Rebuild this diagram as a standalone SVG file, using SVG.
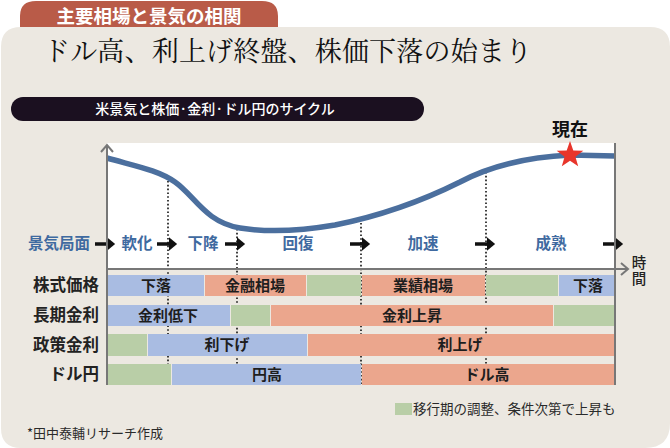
<svg xmlns="http://www.w3.org/2000/svg" width="670" height="448" viewBox="0 0 670 448">
<defs>
<style>
.jp{font-family:"Noto Sans CJK JP","Noto Sans",sans-serif}
.phase{font-family:"Noto Sans CJK JP",sans-serif;font-size:15.5px;font-weight:700;fill:#3f6aa0;text-anchor:middle}
.rowlab{font-family:"Noto Sans CJK JP",sans-serif;font-size:16.5px;font-weight:700;fill:#222;text-anchor:end}
.bartxt{font-family:"Noto Sans CJK JP",sans-serif;font-size:15px;font-weight:700;fill:#1e1e1e;text-anchor:middle}
.b{fill:#a9bce2}
.s{fill:#eba68d}
.g{fill:#b9cea7}
.dot{stroke:#111;stroke-width:1.6;stroke-dasharray:1.6 2.2;fill:none}
.axis{stroke:#777;stroke-width:2;fill:none}
.arr{stroke:#111;stroke-width:3.5;marker-end:url(#ah)}
</style>
<marker id="ah" markerWidth="4" markerHeight="4" refX="1.5" refY="2" orient="auto" markerUnits="strokeWidth">
<path d="M0,0 L2.4,2 L0,4 Z" fill="#111"/>
</marker>
</defs>
<rect width="670" height="448" fill="#ffffff"/>
<g id="tab">
<path d="M20,30 L20,16 Q20,1 36,1 L262,1 Q278,1 278,16 L278,30 Z" fill="#b95b48"/>
<text x="149" y="23" class="jp" font-size="18.5" font-weight="700" fill="#ffffff" text-anchor="middle">主要相場と景気の相関</text>
</g>
<g id="panel">
<path d="M1,47 Q1,27 21,27 L650,27 Q670,27 670,47 L670,423 Q670,448 645,448 L21,448 Q1,448 1,428 Z" fill="#ece8e1"/>
</g>
<g id="title">
<text x="43" y="61" font-family="Noto Serif CJK JP,Noto Sans CJK JP,serif" font-size="27" fill="#111" textLength="489" lengthAdjust="spacing">ドル高、利上げ終盤、株価下落の始まり</text>
</g>
<g id="subtitle">
<rect x="11" y="97" width="413" height="24" rx="12" fill="#1b1020"/>
<text x="215" y="114" class="jp" font-size="14" font-weight="500" fill="#ffffff" text-anchor="middle">米景気と株価·金利·ドル円のサイクル</text>
</g>
<g id="chart">
<rect x="107" y="143" width="508" height="126" fill="#ffffff"/>
<g id="dotted-lines">
<line class="dot" x1="168" y1="181" x2="168" y2="384"/>
<line class="dot" x1="237" y1="229" x2="237" y2="384"/>
<line class="dot" x1="361" y1="223" x2="361" y2="384"/>
<line class="dot" x1="486" y1="172" x2="486" y2="384"/>
</g>
<path d="M107,158 C135,166 158,170 175,182 C195,196 205,222 240,228 C265,232 300,231 335,225 C380,216 420,202 460,182 C490,166 530,157 570,155 L615,156" fill="none" stroke="#4b6f9e" stroke-width="5.5"/>
<g id="star">
<path transform="translate(570,155)" d="M0,-14 L3.3,-4.6 L13.3,-4.3 L5.4,1.8 L8.2,11.3 L0,5.7 L-8.2,11.3 L-5.4,1.8 L-13.3,-4.3 L-3.3,-4.6 Z" fill="#e8352b"/>
<text x="570" y="136" class="jp" font-size="18" font-weight="700" fill="#111" text-anchor="middle">現在</text>
</g>
</g>
<g id="phases">
<text x="59" y="249" class="phase">景気局面</text>
<text x="137" y="249" class="phase">軟化</text>
<text x="203" y="249" class="phase">下降</text>
<text x="298" y="249" class="phase">回復</text>
<text x="423" y="249" class="phase">加速</text>
<text x="551" y="249" class="phase">成熟</text>
</g>
<g id="connectors">
<line class="arr" x1="95" y1="244" x2="112" y2="244"/>
<line class="arr" x1="157" y1="244" x2="174" y2="244"/>
<line class="arr" x1="225" y1="244" x2="242" y2="244"/>
<line class="arr" x1="350" y1="244" x2="367" y2="244"/>
<line class="arr" x1="475" y1="244" x2="492" y2="244"/>
<line class="arr" x1="603" y1="244" x2="620" y2="244"/>
</g>
<g id="rows">
<g id="row-stock">
<text x="99" y="291" class="rowlab">株式価格</text>
<rect class="b" x="108" y="275" width="96" height="21"/>
<rect class="s" x="205" y="275" width="101" height="21"/>
<rect class="g" x="307" y="275" width="54" height="21"/>
<rect class="s" x="362" y="275" width="123" height="21"/>
<rect class="g" x="486" y="275" width="72" height="21"/>
<rect class="b" x="559" y="275" width="56" height="21"/>
<text x="156" y="291" class="bartxt">下落</text>
<text x="255" y="291" class="bartxt">金融相場</text>
<text x="423" y="291" class="bartxt">業績相場</text>
<text x="588" y="291" class="bartxt">下落</text>
</g>
<g id="row-long">
<text x="99" y="321" class="rowlab">長期金利</text>
<rect class="b" x="108" y="305" width="122" height="21"/>
<rect class="g" x="231" y="305" width="39" height="21"/>
<rect class="s" x="271" y="305" width="282" height="21"/>
<rect class="g" x="554" y="305" width="61" height="21"/>
<text x="168" y="321" class="bartxt">金利低下</text>
<text x="412" y="321" class="bartxt">金利上昇</text>
</g>
<g id="row-policy">
<text x="99" y="351" class="rowlab">政策金利</text>
<rect class="g" x="108" y="334" width="39" height="22"/>
<rect class="b" x="148" y="334" width="159" height="22"/>
<rect class="s" x="308" y="334" width="307" height="22"/>
<text x="227" y="350" class="bartxt">利下げ</text>
<text x="460" y="350" class="bartxt">利上げ</text>
</g>
<g id="row-fx">
<text x="99" y="380" class="rowlab">ドル円</text>
<rect class="g" x="108" y="364" width="63" height="21"/>
<rect class="b" x="172" y="364" width="189" height="21"/>
<rect class="s" x="362" y="364" width="253" height="21"/>
<text x="267" y="380" class="bartxt">円高</text>
<text x="487" y="380" class="bartxt">ドル高</text>
</g>
</g>
<g id="axes">
<line class="axis" x1="107" y1="145" x2="107" y2="385"/>
<polyline class="axis" points="101,152 107,145 113,152"/>
<line class="axis" x1="615" y1="143" x2="615" y2="385"/>
<line class="axis" x1="107" y1="269" x2="627" y2="269"/>
<polyline class="axis" points="621,263 628,269 621,275"/>
<text x="639" y="255" class="jp" font-size="14.5" font-weight="500" fill="#222" style="writing-mode:vertical-rl" letter-spacing="2">時間</text>
</g>
<g id="legend">
<rect class="g" x="395" y="403" width="17" height="12"/>
<text x="413" y="414" class="jp" font-size="13.5" fill="#2a2a2a">移行期の調整、条件次第で上昇も</text>
</g>
<g id="footer">
<text x="27" y="438" class="jp" font-size="13" fill="#2a2a2a">*田中泰輔リサーチ作成</text>
</g>
</svg>
